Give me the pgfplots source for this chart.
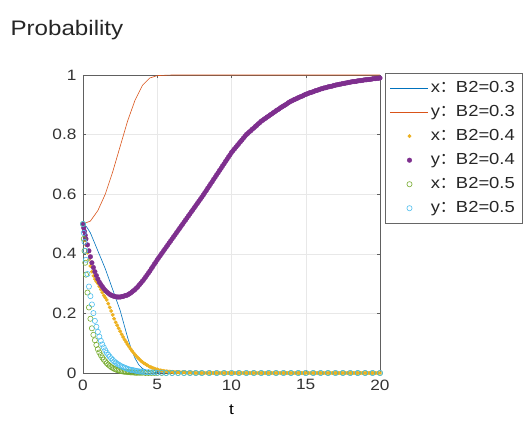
\documentclass[border=0pt]{standalone}
\usepackage{fontspec}
\setmainfont{Liberation Sans}[FakeStretch=1.15]
\newfontfamily\cjk{Noto Sans CJK SC}
\usepackage{pgfplots}
\usepackage{pgfplotstable}
\pgfplotsset{compat=1.18}

\definecolor{mblue}{rgb}{0,0.447,0.741}
\definecolor{morange}{rgb}{0.85,0.325,0.098}
\definecolor{myellow}{rgb}{0.929,0.694,0.125}
\definecolor{mpurple}{rgb}{0.494,0.184,0.556}
\definecolor{mgreen}{rgb}{0.466,0.674,0.188}
\definecolor{mcyan}{rgb}{0.301,0.745,0.933}

% B2=0.4: t, x, y
\pgfplotstableread{
t x4 y4
0 0.500 0.500
0.05 0.480 0.487
0.1 0.460 0.475
0.15 0.445 0.462
0.2 0.430 0.450
0.3 0.404 0.430
0.4 0.380 0.410
0.5 0.359 0.390
0.6 0.340 0.370
0.7 0.326 0.354
0.8 0.315 0.340
0.9 0.307 0.327
1.0 0.300 0.315
1.1 0.290 0.305
1.2 0.280 0.297
1.3 0.270 0.290
1.4 0.260 0.283
1.5 0.253 0.277
1.6 0.245 0.272
1.7 0.233 0.268
1.8 0.220 0.264
1.9 0.208 0.261
2.0 0.195 0.259
2.1 0.182 0.257
2.2 0.170 0.256
2.3 0.160 0.255
2.4 0.150 0.255
2.5 0.140 0.255
2.6 0.130 0.256
2.7 0.121 0.257
2.8 0.112 0.259
2.9 0.104 0.260
3.0 0.096 0.262
3.1 0.088 0.265
3.2 0.081 0.268
3.3 0.074 0.272
3.4 0.068 0.276
3.5 0.062 0.280
3.6 0.056 0.285
3.7 0.051 0.290
3.8 0.046 0.296
3.9 0.041 0.302
4.0 0.037 0.308
4.1 0.033 0.314
4.2 0.030 0.321
4.3 0.027 0.328
4.4 0.024 0.335
4.5 0.021 0.342
4.6 0.019 0.350
4.7 0.017 0.357
4.8 0.015 0.365
4.9 0.013 0.372
5.0 0.012 0.380
5.1 0.010 0.387
5.2 0.009 0.394
5.3 0.008 0.401
5.4 0.007 0.408
5.5 0.006 0.415
5.6 0.006 0.422
5.7 0.005 0.429
5.8 0.005 0.436
5.9 0.004 0.443
6.0 0.004 0.450
6.1 0.003 0.457
6.2 0.003 0.464
6.3 0.003 0.471
6.4 0.003 0.478
6.5 0.002 0.485
6.6 0.002 0.492
6.7 0.002 0.499
6.8 0.002 0.506
6.9 0.002 0.513
7.0 0.001 0.520
7.1 0.001 0.527
7.2 0.001 0.534
7.3 0.001 0.541
7.4 0.001 0.548
7.5 0.001 0.555
7.6 0 0.562
7.7 0 0.569
7.8 0 0.576
7.9 0 0.583
8.0 0 0.590
8.1 0 0.597
8.2 0 0.605
8.3 0 0.612
8.4 0 0.620
8.5 0 0.627
8.6 0 0.635
8.7 0 0.642
8.8 0 0.650
8.9 0 0.657
9.0 0 0.665
9.1 0 0.672
9.2 0 0.680
9.3 0 0.687
9.4 0 0.695
9.5 0 0.702
9.6 0 0.710
9.7 0 0.717
9.8 0 0.725
9.9 0 0.732
10.0 0 0.740
10.1 0 0.746
10.2 0 0.752
10.3 0 0.758
10.4 0 0.764
10.5 0 0.770
10.6 0 0.776
10.7 0 0.782
10.8 0 0.788
10.9 0 0.794
11.0 0 0.800
11.1 0 0.804
11.2 0 0.809
11.3 0 0.813
11.4 0 0.818
11.5 0 0.822
11.6 0 0.827
11.7 0 0.831
11.8 0 0.836
11.9 0 0.840
12.0 0 0.845
12.1 0 0.848
12.2 0 0.852
12.3 0 0.855
12.4 0 0.859
12.5 0 0.862
12.6 0 0.866
12.7 0 0.869
12.8 0 0.873
12.9 0 0.876
13.0 0 0.880
13.1 0 0.883
13.2 0 0.886
13.3 0 0.890
13.4 0 0.893
13.5 0 0.896
13.6 0 0.899
13.7 0 0.902
13.8 0 0.906
13.9 0 0.909
14.0 0 0.912
14.1 0 0.914
14.2 0 0.917
14.3 0 0.919
14.4 0 0.921
14.5 0 0.924
14.6 0 0.926
14.7 0 0.928
14.8 0 0.930
14.9 0 0.933
15.0 0 0.935
15.1 0 0.937
15.2 0 0.939
15.3 0 0.941
15.4 0 0.942
15.5 0 0.944
15.6 0 0.946
15.7 0 0.948
15.8 0 0.949
15.9 0 0.951
16.0 0 0.953
16.1 0 0.954
16.2 0 0.956
16.3 0 0.957
16.4 0 0.958
16.5 0 0.960
16.6 0 0.961
16.7 0 0.962
16.8 0 0.963
16.9 0 0.965
17.0 0 0.966
17.1 0 0.967
17.2 0 0.968
17.3 0 0.969
17.4 0 0.970
17.5 0 0.971
17.6 0 0.972
17.7 0 0.973
17.8 0 0.974
17.9 0 0.975
18.0 0 0.976
18.1 0 0.977
18.2 0 0.978
18.3 0 0.978
18.4 0 0.979
18.5 0 0.980
18.6 0 0.981
18.7 0 0.981
18.8 0 0.982
18.9 0 0.983
19.0 0 0.984
19.1 0 0.984
19.2 0 0.985
19.3 0 0.985
19.4 0 0.986
19.5 0 0.987
19.6 0 0.988
19.7 0 0.988
19.8 0 0.989
19.9 0 0.989
20.0 0 0.990
}\dataA

% B2=0.5: t, x, y
\pgfplotstableread{
t x5 y5
0 0.500 0.500
0.05 0.450 0.470
0.1 0.410 0.440
0.15 0.370 0.410
0.2 0.330 0.380
0.3 0.270 0.332
0.4 0.220 0.290
0.5 0.182 0.258
0.6 0.150 0.230
0.7 0.128 0.201
0.8 0.110 0.175
0.9 0.094 0.155
1.0 0.080 0.138
1.1 0.069 0.122
1.2 0.060 0.108
1.3 0.052 0.096
1.4 0.045 0.086
1.5 0.039 0.076
1.6 0.033 0.068
1.7 0.028 0.061
1.8 0.024 0.055
1.9 0.020 0.049
2.0 0.017 0.044
2.1 0.014 0.039
2.2 0.012 0.035
2.3 0.010 0.031
2.4 0.009 0.028
2.5 0.007 0.025
2.6 0.006 0.022
2.7 0.005 0.020
2.8 0.004 0.018
2.9 0.004 0.016
3.0 0.003 0.014
3.1 0.003 0.012
3.2 0.002 0.011
3.3 0.002 0.010
3.4 0.002 0.009
3.5 0.001 0.008
3.6 0.001 0.007
3.7 0.001 0.006
3.8 0.001 0.005
3.9 0.001 0.005
4.0 0.001 0.004
4.2 0 0.003
4.4 0 0.003
4.6 0 0.002
4.8 0 0.002
5.0 0 0.001
5.3 0 0.001
5.6 0 0
6.0 0 0
6.4 0 0
6.8 0 0
7.2 0 0
7.6 0 0
8.0 0 0
8.5 0 0
9.0 0 0
9.5 0 0
10.0 0 0
10.5 0 0
11.0 0 0
11.5 0 0
12.0 0 0
12.5 0 0
13.0 0 0
13.5 0 0
14.0 0 0
14.5 0 0
15.0 0 0
15.5 0 0
16.0 0 0
16.5 0 0
17.0 0 0
17.5 0 0
18.0 0 0
18.5 0 0
19.0 0 0
19.5 0 0
20.0 0 0
}\dataB

\begin{document}
\begin{tikzpicture}
\begin{axis}[
    scale only axis,
    width=297pt, height=298pt,
    xmin=0, xmax=20, ymin=0, ymax=1,
    xtick={0,5,10,15,20},
    ytick={0,0.2,0.4,0.6,0.8,1},
    grid=major,
    grid style={gray!18},
    axis line style={gray!75!black},
    tick style={gray!75!black},
    tick align=inside,
    major tick length=3pt,
    /pgf/number format/assume math mode=true,
    ticklabel style={font=\fontsize{15}{18}\selectfont, text=black!80},
    yticklabel style={xshift=-3pt},
    xticklabel style={yshift=-3pt},
    xlabel={t},
    xlabel style={font=\fontsize{15}{18}\selectfont, at={(axis description cs:0.5,0)}, anchor=center, yshift=-37pt},
    legend style={at={(axis description cs:1,1)}, anchor=north west, xshift=5pt, yshift=2pt,
        draw=gray!80!black, fill=white, font=\fontsize{16}{19}\selectfont, text=black!85,
        row sep=0pt, inner xsep=5pt, inner ysep=3pt,
        nodes={text height=12pt, text depth=4pt, inner ysep=4pt}},
    legend cell align=left,
    legend image code/.code={\draw[mark repeat=2,mark phase=2,#1] plot coordinates {(0pt,0pt)(19pt,0pt)(38pt,0pt)};},
]
\addplot[mblue, line width=0.6pt] coordinates {
(0,0.5) (0.25,0.49) (0.5,0.47) (0.75,0.44) (1,0.41) (1.25,0.38) (1.5,0.35)
(1.75,0.315) (2,0.28) (2.25,0.245) (2.5,0.21) (2.75,0.165) (3,0.12)
(3.25,0.08) (3.5,0.05) (3.75,0.028) (4,0.015) (4.5,0.004) (5,0.001) (6,0) (20,0)};
\addlegendentry{x{\cjk ：}B2=0.3}
\addplot[morange, line width=0.6pt] coordinates {
(0,0.5) (0.5,0.51) (1,0.545) (1.5,0.6) (2,0.675) (2.5,0.76) (3,0.845)
(3.5,0.915) (4,0.965) (4.5,0.99) (5,0.998) (6,1) (20,1)};
\addlegendentry{y{\cjk ：}B2=0.3}
\addplot[only marks, mark=*, mark size=1.7pt, myellow] table[x=t, y=x4] {\dataA};
\addlegendentry{x{\cjk ：}B2=0.4}
\addplot[only marks, mark=*, mark size=2.3pt, mpurple] table[x=t, y=y4] {\dataA};
\addlegendentry{y{\cjk ：}B2=0.4}
\addplot[only marks, mark=o, mark size=2.6pt, line width=0.6pt, mgreen] table[x=t, y=x5] {\dataB};
\addlegendentry{x{\cjk ：}B2=0.5}
\addplot[only marks, mark=o, mark size=2.6pt, line width=0.6pt, mcyan] table[x=t, y=y5] {\dataB};
\addlegendentry{y{\cjk ：}B2=0.5}
\end{axis}
\node[anchor=base west, font=\fontsize{21}{25}\selectfont, text=black!85] at (-76pt,337pt) {Probability};
\pgfresetboundingbox
\path[use as bounding box] (-83pt,-52pt) rectangle (442pt,373pt);
\end{tikzpicture}
\end{document}
